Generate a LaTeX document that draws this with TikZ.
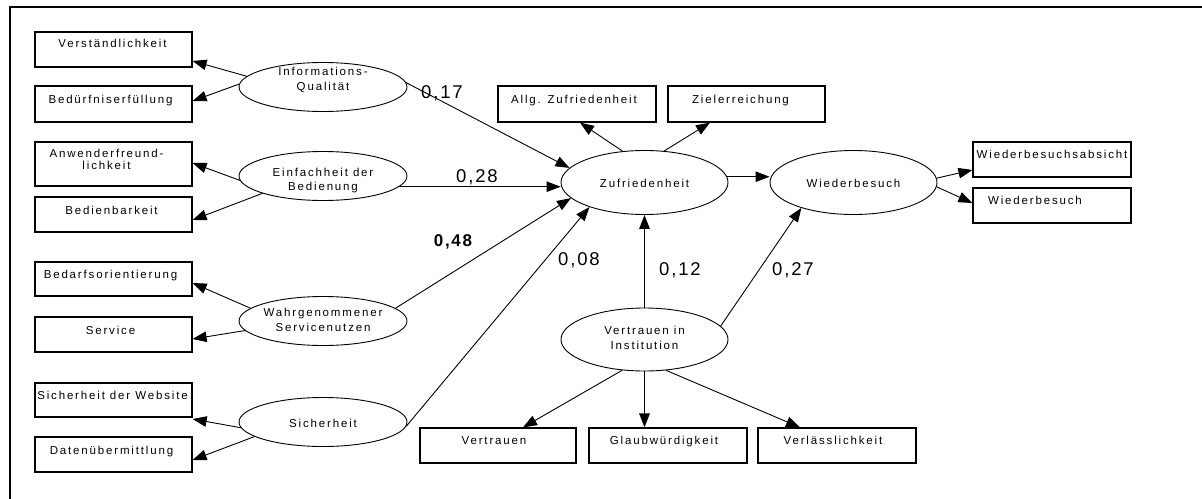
\documentclass[tikz,border=0pt]{standalone}
\usepackage{fontspec}
\setmainfont{Liberation Sans}
\newfontfamily\lblfont{Liberation Sans}[LetterSpace=16]
\newfontfamily\numfont{Liberation Sans}[LetterSpace=10]
\usetikzlibrary{arrows.meta,shapes.geometric}
\tikzset{
  box/.style={draw, line width=1.2pt, minimum width=157pt, minimum height=35pt, inner sep=0pt},
  ell/.style={draw, ellipse, line width=0.9pt, inner sep=0pt, minimum width=168pt, minimum height=49pt},
  bigell/.style={ell, minimum width=167pt, minimum height=64pt},
  btxt/.style={font=\lblfont\fontsize{11.5}{12}\selectfont, inner sep=0pt, anchor=base, align=center},
  etxt/.style={font=\lblfont\fontsize{11.5}{14.5}\selectfont, inner sep=0pt, align=center},
  num/.style={font=\numfont\fontsize{18.5}{20}\selectfont, inner sep=0pt},
  bnum/.style={font=\numfont\bfseries\fontsize{17}{20}\selectfont, inner sep=0pt},
  arr/.style={line width=0.9pt, -{Triangle[length=14pt,width=10.5pt]}},
  thickarr/.style={arr, line width=1.4pt},
  frame/.style={line width=2.6pt, line cap=rect},
}
\begin{document}
\begin{tikzpicture}[x=1pt,y=-1pt]
\useasboundingbox (0,0) rectangle (1202,498);
\fill[white] (0,0) rectangle (1202,498);
% frame
\coordinate (fr1) at (1202,7);
\coordinate (fr2) at (10,7);
\coordinate (fr3) at (10,498);
\draw[frame] (fr1) -- (fr2) -- (fr3);

% left boxes
\node[box, minimum height=35pt] (v1) at (113.5,49.5) {};
\node[box, minimum height=36pt] (v2) at (113.5,104) {};
\node[box, minimum height=44pt] (v3) at (113.5,164) {};
\node[box, minimum height=35pt] (v4) at (113.5,214.5) {};
\node[box, minimum height=34pt] (v5) at (113.5,279) {};
\node[box, minimum height=35pt] (v6) at (113.5,334.5) {};
\node[box, minimum height=34pt] (v7) at (113.5,400) {};
\node[box, minimum height=35pt] (v8) at (113.5,454.5) {};
\node[btxt] (v1t) at ([xshift=-1pt,yshift=-16pt]v1.north) {Verständlichkeit};
\node[btxt] (v2t) at ([xshift=-3pt,yshift=-18pt]v2.north) {Bedürfniserfüllung};
\node[btxt, anchor=north] (v3t) at ([xshift=-7pt,yshift=-7.5pt]v3.north) {Anwenderfreund-\\lichkeit};
\node[btxt] (v4t) at ([xshift=-2pt,yshift=-18pt]v4.north) {Bedienbarkeit};
\node[btxt] (v5t) at ([xshift=-3pt,yshift=-17pt]v5.north) {Bedarfsorientierung};
\node[btxt] (v6t) at ([xshift=-3pt,yshift=-18pt]v6.north) {Service};
\node[btxt] (v7t) at ([xshift=-1pt,yshift=-17pt]v7.north) {Sicherheit der Website};
\node[btxt] (v8t) at ([xshift=-2pt,yshift=-18pt]v8.north) {Datenübermittlung};

% left ellipses
\node[ell] (e1) at (323,87) {};
\node[ell] (e2) at (323,176) {};
\node[ell] (e3) at (323,321) {};
\node[ell] (e4) at (323,422) {};
\node[etxt] (e1t) at (323,80) {Informations-\\Qualität};
\node[etxt] (e2t) at (323,180.5) {Einfachheit der\\Bedienung};
\node[etxt] (e3t) at (323,320) {Wahrgenommener\\Servicenutzen};
\node[etxt] (e4t) at (323,423) {Sicherheit};

% central ellipses
\node[bigell] (zu) at (644.5,182.5) {};
\node[bigell] (wb) at (853.5,182.5) {};
\node[bigell, minimum height=63pt] (vi) at (644.5,339.5) {};
\node[etxt] (zut) at (644.5,183) {Zufriedenheit};
\node[etxt] (wbt) at (853.5,183) {Wiederbesuch};
\node[etxt] (vit) at (644.5,338) {Vertrauen in\\Institution};

% other boxes
\node[box, minimum width=158pt, minimum height=36pt] (z1) at (577,104) {};
\node[box, minimum width=157pt, minimum height=36pt] (z2) at (746.5,104) {};
\node[box, minimum width=158pt] (w1) at (1052,159.5) {};
\node[box, minimum width=158pt] (w2) at (1052,205.5) {};
\node[box, minimum width=156pt] (i1) at (498,445.5) {};
\node[box, minimum width=158pt] (i2) at (668,445.5) {};
\node[box, minimum width=158pt] (i3) at (837,445.5) {};
\node[btxt] (z1t) at ([xshift=-3pt,yshift=-18pt]z1.north) {Allg. Zufriedenheit};
\node[btxt] (z2t) at ([xshift=-6pt,yshift=-18pt]z2.north) {Zielerreichung};
\node[btxt] (w1t) at ([xshift=0pt,yshift=-17pt]w1.north) {Wiederbesuchsabsicht};
\node[btxt] (w2t) at ([xshift=-17pt,yshift=-17pt]w2.north) {Wiederbesuch};
\node[btxt] (i1t) at ([xshift=-4pt,yshift=-17pt]i1.north) {Vertrauen};
\node[btxt] (i2t) at ([xshift=-4pt,yshift=-17pt]i2.north) {Glaubwürdigkeit};
\node[btxt] (i3t) at ([xshift=-4pt,yshift=-17pt]i3.north) {Verlässlichkeit};

% arrows to indicator boxes (left)
\draw[arr] (e1.172) -- ([yshift=-11.5pt]v1.east);
\draw[arr] (e1.178) -- ([yshift=3pt]v2.east);
\draw[arr] (e2.183) -- ([yshift=1pt]v3.east);
\draw[arr] (e2.196) -- ([yshift=-5.5pt]v4.east);
\draw[arr] (e3.170) -- ([yshift=-4pt]v5.east);
\draw[arr] (e3.187) -- ([yshift=-4.5pt]v6.east);
\draw[arr] (e4.184) -- ([yshift=-19pt]v7.east);
\draw[arr] (e4.192) -- ([yshift=-5.5pt]v8.east);

% structural paths
\draw[arr] (e1.3) -- (zu.169);
\draw[arr] (e2.352.5) -- (e2.352.5 -| zu.west);
\draw[arr] (e3.10) -- (zu.192.6);
\draw[arr] (e4.357) -- (zu.204);
\draw[thickarr] (vi.north) -- (zu.south);
\draw[arr] (vi.10.6) -- (wb.206);
\draw[arr] (zu.4) -- (zu.4 -| wb.west);

% Zufriedenheit indicators
\draw[arr] (zu.125) -- ([xshift=3pt]z1.south);
\draw[arr] (zu.58) -- ([xshift=-36.5pt]z2.south);

% Vertrauen indicators
\draw[arr] (vi.234.5) -- ([xshift=25pt]i1.north);
\draw[thickarr] (vi.south) -- (vi.south |- i2.north);
\draw[arr] (vi.305.5) -- ([xshift=-37pt]i3.north);

% Wiederbesuch indicators
\draw[arr] (wb.3) -- ([yshift=-10.5pt]w1.west);
\draw[arr] (wb.357) -- ([yshift=2.5pt]w2.west);

% coefficients
\node[num] (n17) at (442,93) {0,17};
\node[num] (n28) at (477,177) {0,28};
\node[bnum] (n48) at (453,242) {0,48};
\node[num] (n08) at (579,260) {0,08};
\node[num] (n12) at (680,270) {0,12};
\node[num] (n27) at (793,270) {0,27};
\end{tikzpicture}
\end{document}
